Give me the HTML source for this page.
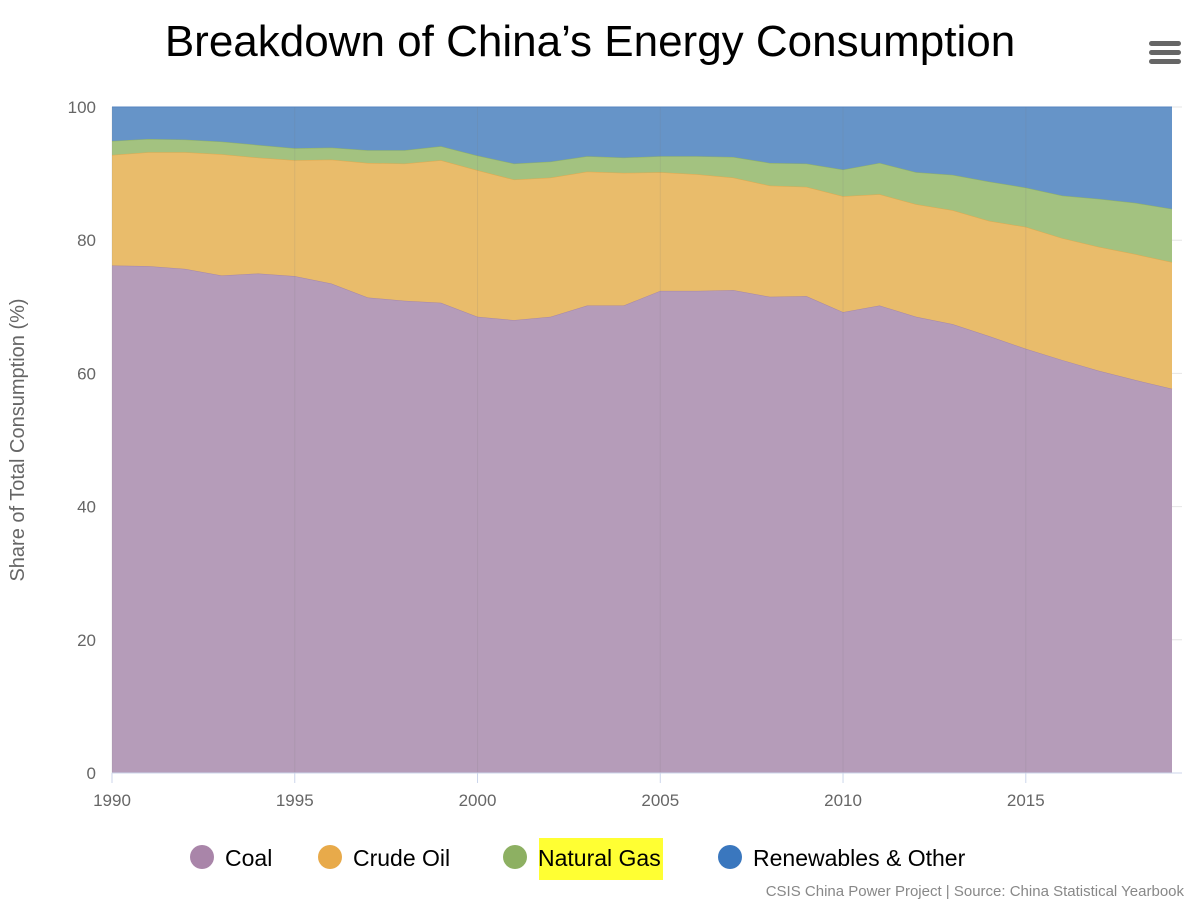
<!DOCTYPE html>
<html><head><meta charset="utf-8"><style>
body{margin:0;background:#fff;font-family:"Liberation Sans",sans-serif;}
svg text{font-family:"Liberation Sans",sans-serif;}
</style></head><body>
<svg id="chart" width="1200" height="904" xmlns="http://www.w3.org/2000/svg">
<text x="590" y="56" text-anchor="middle" font-size="44" fill="#000">Breakdown of China’s Energy Consumption</text>
<g>
<rect x="1149" y="41" width="32" height="5" rx="2.5" fill="#666"/>
<rect x="1149" y="50" width="32" height="5" rx="2.5" fill="#666"/>
<rect x="1149" y="59" width="32" height="5" rx="2.5" fill="#666"/>
</g>
<g id="grid"></g>
<g id="areas"></g>
<g id="axes"></g>
<text transform="translate(24,440) rotate(-90)" text-anchor="middle" font-size="20" fill="#666">Share of Total Consumption (%)</text>
<g id="legend"></g>
<text x="1184" y="896" text-anchor="end" font-size="15" fill="#888">CSIS China Power Project | Source: China Statistical Yearbook</text>
</svg>
<script>
const years=[1990,1991,1992,1993,1994,1995,1996,1997,1998,1999,2000,2001,2002,2003,2004,2005,2006,2007,2008,2009,2010,2011,2012,2013,2014,2015,2016,2017,2018,2019];
const coal=[76.2,76.1,75.7,74.7,75.0,74.6,73.5,71.4,70.9,70.6,68.5,68.0,68.5,70.2,70.2,72.4,72.4,72.5,71.5,71.6,69.2,70.2,68.5,67.4,65.6,63.7,62.0,60.4,59.0,57.7];
const oil=[16.6,17.1,17.5,18.2,17.4,17.4,18.6,20.2,20.6,21.4,22.0,21.1,20.9,20.1,19.9,17.8,17.5,16.9,16.7,16.4,17.4,16.7,16.9,17.1,17.3,18.3,18.3,18.6,18.9,19.0];
const gas=[2.1,2.0,1.9,1.9,1.9,1.8,1.8,1.9,2.0,2.1,2.2,2.4,2.4,2.3,2.3,2.4,2.7,3.1,3.4,3.5,4.0,4.7,4.8,5.3,5.9,5.9,6.4,7.2,7.7,8.0];
const renew=[5.1,4.8,4.9,5.2,5.7,6.2,6.1,6.5,6.5,5.9,7.3,8.5,8.2,7.4,7.6,7.4,7.4,7.5,8.4,8.5,9.4,8.4,9.8,10.2,11.2,12.1,13.3,13.8,14.4,15.3];
const seriesNames=["Coal","Crude Oil","Natural Gas","Renewables & Other"];
const yTicks=[0,20,40,60,80,100];
const xTicks=[1990,1995,2000,2005,2010,2015];

const NS="http://www.w3.org/2000/svg";
const X0=112,X1=1172,Y0=773,Y1=107;
const xs=y=>X0+(y-1990)/(2019-1990)*(X1-X0);
const ys=v=>Y0-v/100*(Y0-Y1);
function mk(tag,attrs,parent){const e=document.createElementNS(NS,tag);for(const k in attrs)e.setAttribute(k,attrs[k]);parent.appendChild(e);return e;}
const grid=document.getElementById('grid'),areas=document.getElementById('areas'),axes=document.getElementById('axes'),legend=document.getElementById('legend');
yTicks.forEach(t=>{
  const l=mk('line',{x1:X0,x2:X1+10,y1:ys(t),y2:ys(t),stroke:'#e6e6e6','stroke-width':1},grid);
  
  
  const tx=mk('text',{x:96,y:ys(t)+6,'text-anchor':'end','font-size':17,fill:'#666'},axes);
  tx.textContent=t;
  
  
});
const series=[coal,oil,gas,renew];
const fills=['#b59cb9','#e9bc6b','#a3c280','#6694c8'];
const strokes=['#a687a8','#dfa94f','#8fb066','#5585c0'];
const names=['area-coal','area-crude-oil','area-natural-gas','area-renewables'];
let base=years.map(()=>0);
series.forEach((s,i)=>{
  const top=base.map((b,j)=>b+s[j]);
  let d='M'+years.map((y,j)=>xs(y)+','+ys(top[j])).join(' L');
  for(let j=years.length-1;j>=0;j--)d+=' L'+xs(years[j])+','+ys(base[j]);
  d+='Z';
  const p=mk('path',{d:d,fill:fills[i],stroke:'none'},areas);
  
  
  const ln=mk('path',{d:'M'+years.map((y,j)=>xs(y)+','+ys(top[j])).join(' L'),fill:'none',stroke:strokes[i],'stroke-width':1},areas);
  
  
  base=top;
});
xTicks.forEach(t=>{
  const gl=mk('line',{x1:xs(t),x2:xs(t),y1:Y1,y2:Y0,stroke:'rgba(120,120,120,0.15)','stroke-width':1},axes);
  
  
  const tk=mk('line',{x1:xs(t),x2:xs(t),y1:Y0,y2:Y0+10,stroke:'#ccd6eb'},axes);
  
  
  const tx=mk('text',{x:xs(t),y:Y0+33,'text-anchor':'middle','font-size':17,fill:'#666'},axes);
  tx.textContent=t;
  
  
});
const al=mk('line',{x1:X0,x2:X1+10,y1:Y0,y2:Y0,stroke:'#ccd6eb'},axes);


const lc=['#a985a9','#e8aa4a','#8db062','#3a77be'];
const lx=[202,330,515,730];
seriesNames.forEach((n,i)=>{
  const g=mk('g',{},legend);
  
  
  if(i===2)mk('rect',{x:lx[i]+24,y:838,width:124,height:42,fill:'#ffff33'},g);
  mk('circle',{cx:lx[i],cy:857,r:12,fill:lc[i]},g);
  const t=mk('text',{x:lx[i]+23,y:866,'font-size':23,fill:'#000'},g);
  t.textContent=n;
});
</script>
</body></html>
